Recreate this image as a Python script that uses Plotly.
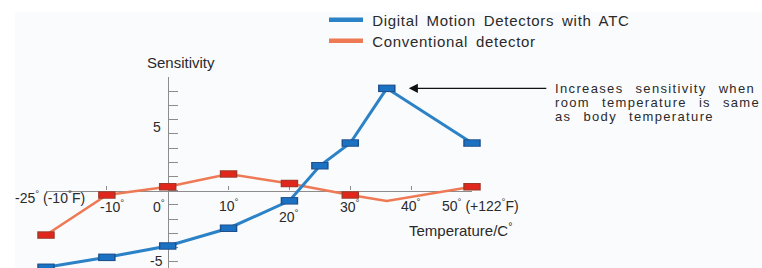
import plotly.graph_objects as go

# ---------------- data ----------------
temp_x = [-20, -10, 0, 10, 20, 25, 30, 36, 50]          # plotting positions of the temperatures
atc_sens = [-5.4, -4.7, -3.9, -2.65, -0.72, 1.75, 3.35, 7.2, 3.35]
conv_x = [-20, -10, 0, 10, 20, 30, 36, 50]
conv_sens = [-3.13, -0.31, 0.27, 1.17, 0.5, -0.31, -0.73, 0.27]
conv_has_marker = [True, True, True, True, True, True, False, True]

xtick_vals = [-20, -10, 0, 10, 20, 30, 40, 50]
xtick_text = ["-25<sup>°</sup> (-10<sup>°</sup>F)", "-10<sup>°</sup>", "0<sup>°</sup>", "10<sup>°</sup>",
              "20<sup>°</sup>", "30<sup>°</sup>", "40<sup>°</sup>", "50<sup>°</sup> (+122<sup>°</sup>F)"]
ytick_vals = [5, -5]
ytick_text = ["5", "-5"]
series_names = ["Digital Motion Detectors with ATC", "Conventional detector"]
note_lines = ["Increases sensitivity when", "room temperature is same", "as body temperature"]

# ---------------- style ----------------
W, H = 762, 268
PL, PR, PT, PB = 46, 472, 77, 268          # plot area in page pixels
L, T, R, B = PL, PT, W - PR, H - PB
PW, PH = PR - PL, PB - PT
XR = [-20, 50]
YR = [8 - PH / 14.2, 8]

BLUE_LINE = "#2b82c6"
BLUE_FILL = "#1c72c2"
BLUE_EDGE = "#1d4f8c"
OR_LINE = "#ee7a55"
OR_FILL = "#e1271c"
OR_EDGE = "#9c3a2a"
TXT = "#2a2a2a"
AX = "#8c8c8c"
BG = "#fafbfd"
FONT = "Liberation Sans, Arial, sans-serif"

def pxx(p):           # page pixel -> paper x
    return (p - PL) / PW

def pxy(p):           # page pixel -> paper y
    return 1 - (p - PT) / PH

def spaced(s, ls, ws):
    return '<span style="letter-spacing:%spx;word-spacing:%spx">%s</span>' % (ls, ws, s)

fig = go.Figure()

def add_series(xs, ys, mask, line_color, line_w, fill, edge):
    fig.add_trace(go.Scatter(x=xs, y=ys, mode="lines", line=dict(color=line_color, width=line_w),
                             showlegend=False, hoverinfo="skip"))
    mx = [x for x, m in zip(xs, mask) if m]
    my = [y for y, m in zip(ys, mask) if m]
    fig.add_trace(go.Scatter(x=mx, y=my, mode="markers", cliponaxis=False, showlegend=False,
                             marker=dict(symbol="line-ew", size=12.5, color=edge,
                                         line=dict(color=edge, width=7.5))))
    fig.add_trace(go.Scatter(x=mx, y=my, mode="markers", cliponaxis=False, showlegend=False,
                             marker=dict(symbol="line-ew", size=10.5, color=fill,
                                         line=dict(color=fill, width=5.5))))

add_series(conv_x, conv_sens, conv_has_marker, OR_LINE, 2.5, OR_FILL, OR_EDGE)
add_series(temp_x, atc_sens, [True] * len(temp_x), BLUE_LINE, 3, BLUE_FILL, BLUE_EDGE)

# legend entries (one legend per row)
fig.add_trace(go.Scatter(x=[None], y=[None], mode="lines", name="&nbsp;" + spaced(series_names[0], 0.7, 3),
                         line=dict(color=BLUE_LINE, width=4.5), legend="legend"))
fig.add_trace(go.Scatter(x=[None], y=[None], mode="lines", name="&nbsp;" + spaced(series_names[1], 0.7, 3),
                         line=dict(color=OR_LINE, width=4.5), legend="legend2"))

ann = []
# x tick labels
x_dx = [4, 5, -9, 0, 0, 0, 0, 8]
x_dy = [-6, -15, -15, -14, -25, -15, -14, -14]
for v, t, dx, dy in zip(xtick_vals, xtick_text, x_dx, x_dy):
    ann.append(dict(x=v, y=0, xref="x", yref="y", text=t, showarrow=False, xanchor="center",
                    yanchor="middle", xshift=dx, yshift=dy, font=dict(size=14, color=TXT, family=FONT)))
# y tick labels
y_dy = [-7, 1]
for v, t, dy in zip(ytick_vals, ytick_text, y_dy):
    ann.append(dict(x=0, y=v, xref="x", yref="y", text=t, showarrow=False, xanchor="center",
                    yanchor="middle", xshift=-11, yshift=dy, font=dict(size=14, color=TXT, family=FONT)))
# axis titles
ann.append(dict(x=pxx(181), y=pxy(62), xref="paper", yref="paper", text="Sensitivity", showarrow=False,
                xanchor="center", yanchor="middle", font=dict(size=15, color=TXT, family=FONT)))
ann.append(dict(x=pxx(460), y=pxy(229), xref="paper", yref="paper", text="Temperature/C<sup>°</sup>",
                showarrow=False, xanchor="center", yanchor="middle", font=dict(size=15, color=TXT, family=FONT)))
# arrow
pk = atc_sens.index(max(atc_sens))
ann.append(dict(x=temp_x[pk], y=atc_sens[pk], xref="x", yref="y", text="", showarrow=True,
                ax=161, ay=0, axref="pixel", ayref="pixel", arrowhead=2, arrowsize=1.3, arrowwidth=1.4,
                arrowcolor="#111111", standoff=22))
# note text
for i, line in enumerate(note_lines):
    ann.append(dict(x=pxx(553), y=pxy(88 + 14.3 * i), xref="paper", yref="paper",
                    text=spaced(line, 1.35, 7), showarrow=False, xanchor="left", yanchor="middle",
                    font=dict(size=13, color=TXT, family=FONT)))

leg_common = dict(xanchor="left", yanchor="middle", bgcolor="rgba(0,0,0,0)", borderwidth=0,
                  font=dict(size=15, color=TXT, family=FONT), itemwidth=34)

fig.update_layout(
    width=W, height=H,
    margin=dict(l=L, r=R, t=T, b=B, pad=0),
    paper_bgcolor="#ffffff", plot_bgcolor="rgba(0,0,0,0)",
    shapes=[dict(type="rect", xref="paper", yref="paper", x0=pxx(15), x1=pxx(W + 5), y0=pxy(12), y1=pxy(H + 5),
                 fillcolor=BG, line=dict(width=0), layer="below")],
    xaxis=dict(range=XR, showgrid=False, zeroline=False, showline=True, linecolor=AX, linewidth=1.3,
               anchor="free", position=(0 - YR[0]) / (YR[1] - YR[0]), tickmode="array", tickvals=xtick_vals,
               ticks="inside", ticklen=4, tickcolor=AX, showticklabels=False, layer="below traces"),
    yaxis=dict(range=YR, showgrid=False, zeroline=False, showline=True, linecolor=AX, linewidth=1.3,
               anchor="free", position=(0 - XR[0]) / (XR[1] - XR[0]), tickmode="linear", tick0=0, dtick=1,
               ticks="inside", ticklen=9, tickcolor=AX, showticklabels=False, layer="below traces"),
    showlegend=True,
    hovermode=False,
    legend=dict(x=pxx(324), y=pxy(20), **leg_common),
    legend2=dict(x=pxx(324), y=pxy(41), **leg_common),
    annotations=ann,
)

fig.write_html("out.html", config={"displayModeBar": False},
               post_script="document.body.style.margin='0';document.body.style.overflow='hidden';")
